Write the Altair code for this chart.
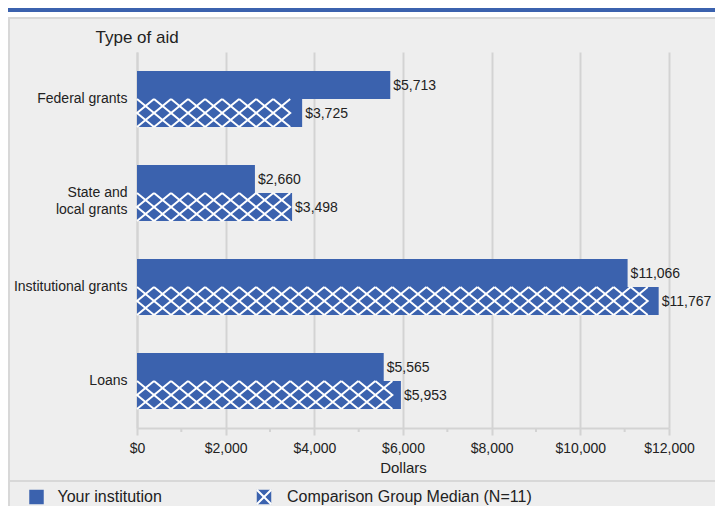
import altair as alt
import pandas as pd

# ---- data ----
categories = ["Federal grants", "State and local grants", "Institutional grants", "Loans"]
series = ["Your institution", "Comparison Group Median (N=11)"]
institution_values = [5713, 2660, 11066, 5565]
comparison_values = [3725, 3498, 11767, 5953]
x_ticks = [0, 2000, 4000, 6000, 8000, 10000, 12000]
minor_ticks = [1000, 3000, 5000, 7000, 9000, 11000]

rows = []
for c, v in zip(categories, institution_values):
    rows.append({"category": c, "series": series[0], "value": v})
for c, v in zip(categories, comparison_values):
    rows.append({"category": c, "series": series[1], "value": v})
df = pd.DataFrame(rows)
df["label"] = df["value"].map(lambda v: f"${v:,}")

# ---- styles ----
BLUE = "#3b62ae"
GRID = "#d3d3d3"
FONT = "Liberation Sans"
TXT = "#222222"
W, H = 532, 376
PAD = {"left": 129, "top": 44, "right": 46, "bottom": 78}
RIGHT = W + PAD["right"]
STEP = 384  # hatch cell width in dollars (~17px)
HATCH = "M-0.607,-1L0.607,0L-0.607,1M0.607,-1L-0.607,0L0.607,1"
XMARK = "M-1,-1L1,1M1,-1L-1,1"

x_scale = alt.Scale(domain=[0, 12000], nice=False, zero=True)
y_scale = alt.Scale(domain=categories, paddingInner=38 / 94, paddingOuter=19 / 94)
yo_scale = alt.Scale(domain=series, paddingInner=0, paddingOuter=0)

x_axis = alt.Axis(values=x_ticks, format="$,.0f", title="Dollars", grid=True,
                  gridColor=GRID, gridWidth=2, domainColor=GRID, domainWidth=2,
                  tickColor=GRID, tickWidth=2, tickSize=7, labelPadding=6,
                  labelFlush=False, labelOverlap=False,
                  labelFontSize=14, labelFont=FONT, labelColor=TXT,
                  titleFontSize=15, titleFont=FONT, titleColor=TXT,
                  titleFontWeight="normal", titlePadding=5)
y_axis = alt.Axis(title="Type of aid", titleAngle=0, titleAlign="left",
                  titleBaseline="middle", titleX=-42, titleY=-15,
                  titleFontSize=17, titleFont=FONT, titleColor=TXT,
                  titleFontWeight="normal", ticks=False, domain=True,
                  domainColor=GRID, domainWidth=2, grid=False,
                  labelFontSize=14, labelFont=FONT, labelColor=TXT,
                  labelPadding=10, labelLineHeight=17,
                  labelExpr="datum.value == 'State and local grants' ? ['State and', 'local grants'] : datum.label")


def X(field):
    return alt.X(field, type="quantitative", scale=x_scale, axis=x_axis)


Y = alt.Y("category:N", scale=y_scale, sort=categories, axis=y_axis)
YO = alt.YOffset("series:N", scale=yo_scale, sort=series)

base = alt.Chart(df)

bars = base.mark_bar(color=BLUE).encode(x=X("value"), y=Y, yOffset=YO)

hatch = base.transform_filter(alt.datum.series == series[1]).transform_calculate(
    px=f"sequence({STEP / 2}, datum.value - {STEP * 0.25}, {STEP})"
).transform_flatten(["px"]).mark_point(
    shape=HATCH, filled=False, color="white", strokeWidth=2, size=784, opacity=1
).encode(x=X("px"), y=Y, yOffset=YO)

labels = base.mark_text(align="left", baseline="middle", dx=3, dy=1, fontSize=14,
                        font=FONT, color=TXT).encode(
    x=X("value"), y=Y, yOffset=YO, text="label:N")

minor = alt.Chart(pd.DataFrame({"v": minor_ticks})).mark_rule(
    color=GRID, strokeWidth=2).encode(x=X("v"), y=alt.value(H), y2=alt.value(H + 4))

one = pd.DataFrame({"k": [0]})
deco = alt.Chart(one)
top_white = deco.mark_rect(color="white").encode(
    x=alt.value(-130), x2=alt.value(RIGHT + 2), y=alt.value(-45), y2=alt.value(-35))
band = deco.mark_rect(color=BLUE).encode(
    x=alt.value(-129), x2=alt.value(RIGHT + 2), y=alt.value(-44), y2=alt.value(-40))
top_border = deco.mark_rule(color="#d8d8d8", strokeWidth=2).encode(
    x=alt.value(-129), x2=alt.value(RIGHT + 2), y=alt.value(-34))
left_border = deco.mark_rule(color="#d8d8d8", strokeWidth=2).encode(
    x=alt.value(-128), y=alt.value(-34), y2=alt.value(H + 90))
separator = deco.mark_rule(color="#d8d8d8", strokeWidth=2).encode(
    x=alt.value(-128), x2=alt.value(RIGHT + 2), y=alt.value(H + 53))

leg_y = H + 69
leg_sq1 = deco.mark_point(shape="square", filled=True, color=BLUE, size=210, opacity=1).encode(
    x=alt.value(-100.5), y=alt.value(leg_y))
leg_t1 = deco.mark_text(align="left", baseline="middle", fontSize=16, font=FONT, color=TXT,
                        text=series[0]).encode(x=alt.value(-79.5), y=alt.value(leg_y))
leg_sq2 = deco.mark_point(shape="square", filled=True, color=BLUE, size=210, opacity=1).encode(
    x=alt.value(127), y=alt.value(leg_y))
leg_x2 = deco.mark_point(shape=XMARK, filled=False, color="white", strokeWidth=2, size=210,
                         opacity=1).encode(x=alt.value(127), y=alt.value(leg_y))
leg_t2 = deco.mark_text(align="left", baseline="middle", fontSize=16, font=FONT, color=TXT,
                        text=series[1]).encode(x=alt.value(150), y=alt.value(leg_y))

chart = alt.layer(
    top_white, band, top_border, left_border, separator,
    bars, hatch, minor, labels,
    leg_sq1, leg_t1, leg_sq2, leg_x2, leg_t2,
).properties(
    width=W, height=H, padding=PAD, autosize="none", background="#eeeeee"
).configure_view(stroke=None)

chart.save("out.html", embed_options={"renderer": "svg", "actions": False})
